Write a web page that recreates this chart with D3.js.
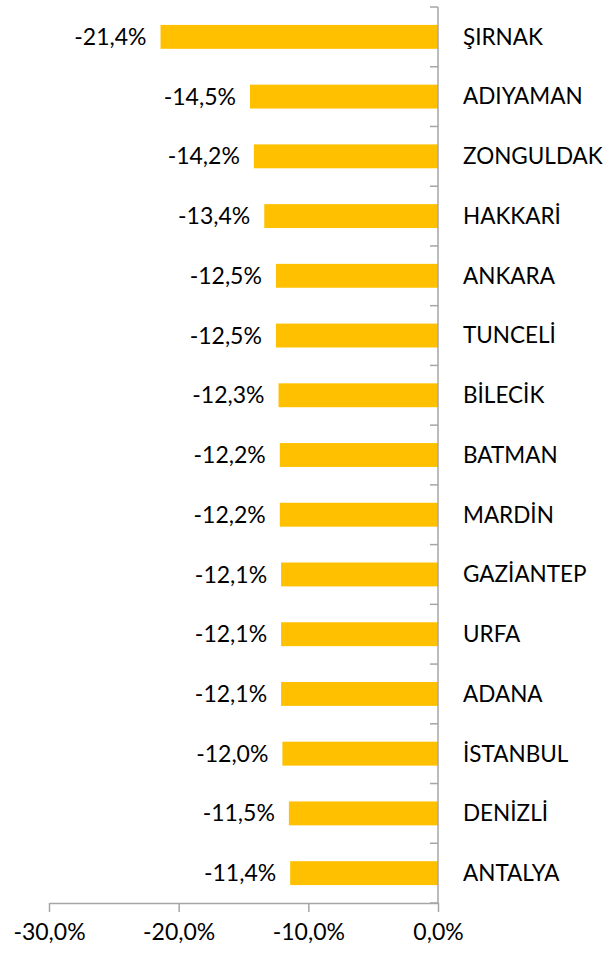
<!DOCTYPE html>
<html>
<head>
<meta charset="utf-8">
<script src="https://cdnjs.cloudflare.com/ajax/libs/d3/7.8.5/d3.min.js"></script>
<style>
  body { margin: 0; background: #fff; }
  text { font-family: Lato, "Open Sans", sans-serif; fill: #000; }
</style>
</head>
<body>
<div id="container"></div>
<script>
const provinces = ['ŞIRNAK', 'ADIYAMAN', 'ZONGULDAK', 'HAKKARİ', 'ANKARA', 'TUNCELİ', 'BİLECİK',
    'BATMAN', 'MARDİN', 'GAZİANTEP', 'URFA', 'ADANA', 'İSTANBUL', 'DENİZLİ', 'ANTALYA'];
const changes = [-21.4, -14.5, -14.2, -13.4, -12.5, -12.5, -12.3, -12.2, -12.2, -12.1, -12.1, -12.1, -12.0, -11.5, -11.4];
const xTicks = [-30, -20, -10, 0];

const width = 609, height = 954;
const numSize = 23, catSize = 22.5;

const trLocale = d3.formatLocale({ decimal: ',', thousands: '.', grouping: [3], currency: ['', ''], minus: '-' });
const fmt = v => trLocale.format('.1f')(v) + '%';

const svg = d3.select('#container')
    .append('svg')
    .attr('width', width)
    .attr('height', height);

const x = d3.scaleLinear()
    .domain([-30, 0])
    .range([49, 438]);

const y = d3.scaleBand()
    .domain(provinces)
    .range([7, 903])
    .paddingInner(0.6)
    .paddingOuter(0.3);

const rows = provinces.map((p, i) => ({ name: p, value: changes[i] }));

// bars
svg.selectAll('rect.bar')
    .data(rows)
    .enter()
    .append('rect')
    .attr('class', 'bar')
    .attr('x', d => x(d.value))
    .attr('y', d => y(d.name))
    .attr('width', d => x(0) - x(d.value))
    .attr('height', y.bandwidth())
    .attr('fill', '#FFC000');

// value labels
svg.selectAll('text.value')
    .data(rows)
    .enter()
    .append('text')
    .attr('class', 'value')
    .attr('x', d => x(d.value) - 14)
    .attr('y', d => y(d.name) + y.bandwidth() / 2)
    .attr('dy', '0.35em')
    .attr('text-anchor', 'end')
    .style('font-size', numSize + 'px')
    .text(d => fmt(d.value));

// category labels
svg.selectAll('text.cat')
    .data(rows)
    .enter()
    .append('text')
    .attr('class', 'cat')
    .attr('x', x(0) + 25)
    .attr('y', d => y(d.name) + y.bandwidth() / 2)
    .attr('dy', '0.35em')
    .style('font-size', catSize + 'px')
    .text(d => d.name);

// vertical axis with ticks between categories
const step = y.step();
const boundaries = d3.range(provinces.length + 1).map(i => y.range()[0] + i * step);

svg.append('line')
    .attr('x1', x(0)).attr('x2', x(0))
    .attr('y1', boundaries[0]).attr('y2', boundaries[boundaries.length - 1])
    .attr('stroke', '#A6A6A6')
    .attr('stroke-width', 1.5);

svg.selectAll('line.ytick')
    .data(boundaries)
    .enter()
    .append('line')
    .attr('class', 'ytick')
    .attr('x1', x(0) - 8).attr('x2', x(0))
    .attr('y1', d => d).attr('y2', d => d)
    .attr('stroke', '#A6A6A6')
    .attr('stroke-width', 1.5);

// bottom axis
const xAxis = d3.axisBottom(x)
    .tickValues(xTicks)
    .tickSize(9)
    .tickSizeOuter(0)
    .tickPadding(12)
    .tickFormat(d => fmt(d));

const gx = svg.append('g')
    .attr('transform', `translate(0, ${boundaries[boundaries.length - 1]})`)
    .call(xAxis);

gx.selectAll('path, line')
    .attr('stroke', '#A6A6A6')
    .attr('stroke-width', 1.5);

gx.selectAll('text')
    .style('font-size', numSize + 'px')
    .style('font-family', 'Lato, "Open Sans", sans-serif')
    .attr('fill', '#000');
</script>
</body>
</html>
